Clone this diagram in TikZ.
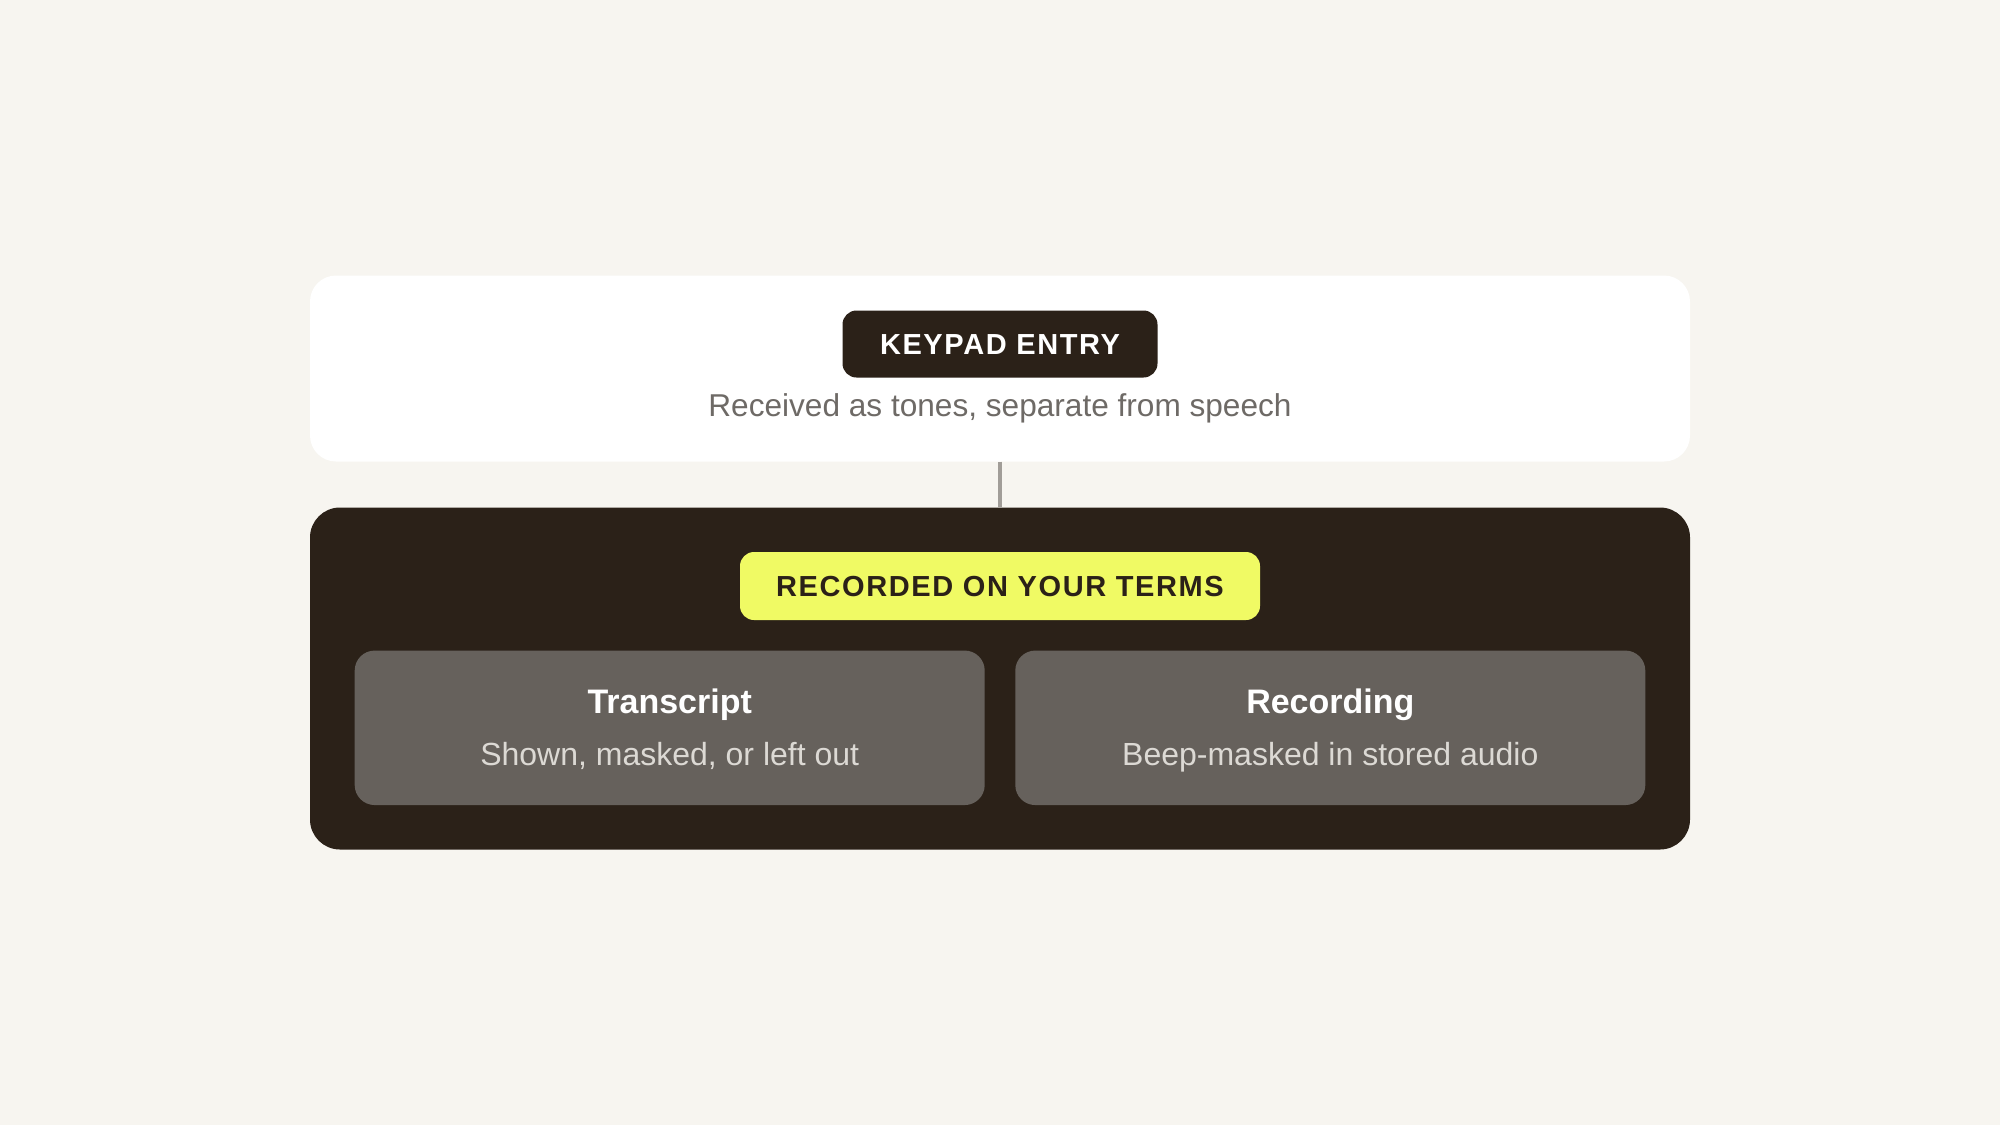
\documentclass[tikz,border=0pt]{standalone}
\usepackage{fontspec}
\setmainfont{Liberation Sans}
\newfontfamily\spacedfont{Liberation Sans}[LetterSpace=5.5]
\definecolor{bgcol}{HTML}{F7F5F0}
\definecolor{darkcol}{HTML}{2B2118}
\definecolor{yellowcol}{HTML}{F0FA64}
\definecolor{greybox}{HTML}{66615C}
\definecolor{subgrey}{HTML}{6E6A66}
\definecolor{lightsub}{HTML}{DCD9D4}
\definecolor{linecol}{HTML}{A19D98}
\tikzset{
  card/.style={inner sep=0pt, minimum width=1380pt},
  tag/.style={inner sep=0pt, rounded corners=14pt, text height=21pt, text depth=0pt,
    font=\spacedfont\bfseries\fontsize{29}{34}\selectfont},
  subbox/.style={fill=greybox, rounded corners=20pt, inner sep=0pt,
    minimum width=630pt, minimum height=154.5pt},
  boxtitle/.style={anchor=base, text=white, font=\bfseries\fontsize{34}{40}\selectfont, inner sep=0pt},
  boxsub/.style={anchor=base, text=lightsub, font=\fontsize{32}{38}\selectfont, inner sep=0pt},
  connector/.style={draw=linecol, line width=3.5pt}
}
\begin{document}
\begin{tikzpicture}[x=1pt,y=-1pt]
\fill[bgcol] (0,0) rectangle (2000,1125);
\useasboundingbox (0,0) rectangle (2000,1125);
% top card
\node[card, fill=white, rounded corners=26pt, minimum height=186pt] (top) at (1000,368.5) {};
\node[tag, fill=darkcol, text=white, minimum width=315pt, minimum height=67pt] (keypad) at (1000,344) {KEYPAD ENTRY};
\node[anchor=base, text=subgrey, font=\fontsize{31.6}{37}\selectfont, inner sep=0pt] (keypadsub) at (1000,416.5) {Received as tones, separate from speech};
% dark card
\node[card, fill=darkcol, rounded corners=30pt, minimum height=342pt] (dark) at (1000,678.5) {};
\draw[connector] (top.south) -- (dark.north);
\node[tag, fill=yellowcol, text=darkcol, minimum width=520pt, minimum height=68pt] (terms) at (1000,586) {RECORDED ON YOUR TERMS};
% sub boxes
\node[subbox] (transcript) at (669.7,727.8) {};
\node[boxtitle] (transcripttitle) at (669.7,713) {Transcript};
\node[boxsub] (transcriptsub) at (669.7,765) {Shown, masked, or left out};
\node[subbox] (recording) at (1330.3,727.8) {};
\node[boxtitle] (recordingtitle) at (1330.3,713) {Recording};
\node[boxsub] (recordingsub) at (1330.3,765) {Beep-masked in stored audio};
\end{tikzpicture}
\end{document}
